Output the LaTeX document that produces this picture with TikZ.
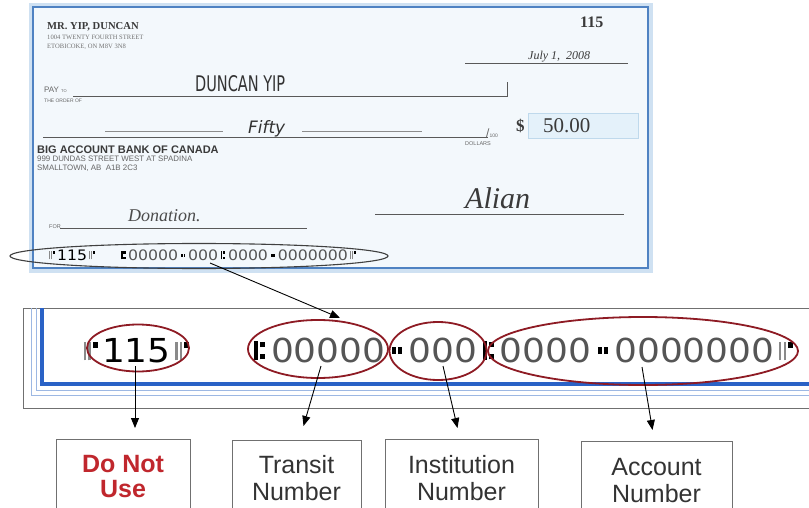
\documentclass[tikz,border=0pt]{standalone}
\usepackage{fontspec}
\usepackage{graphicx}
\setmainfont{Liberation Serif}
\setsansfont{Liberation Sans}
\newfontfamily\micrfont{DejaVu Sans}
\newfontfamily\handfont{DejaVu Sans Condensed}
\usetikzlibrary{shapes.geometric,arrows.meta,calc}
\definecolor{chqfill}{HTML}{F3F8FC}
\definecolor{chqband}{HTML}{CFE1F2}
\definecolor{chqline}{HTML}{4F82C2}
\definecolor{dred}{HTML}{8E1B24}
\definecolor{mblue}{HTML}{2A62C6}
\definecolor{lblue}{HTML}{9DB8E3}
\definecolor{boxgray}{HTML}{707070}
\definecolor{txtgray}{HTML}{333333}
\definecolor{redtxt}{HTML}{C0272D}
\definecolor{amtbox}{HTML}{E4F1FA}
\definecolor{amtline}{HTML}{BFD9EC}
\definecolor{micrgray}{HTML}{555555}
\definecolor{symgray}{HTML}{8A8A8A}
\definecolor{inkgray}{HTML}{3A3A3A}
\newcommand\fsz[1]{\fontsize{#1}{#1}\selectfont}
% E-13B MICR symbols (no installed font has them): drawn from rules
\newcommand\symonus{\makebox[0.636em]{\color{symgray}\rule[0.05em]{0.07em}{0.55em}\hspace{0.06em}\rule[0.05em]{0.07em}{0.55em}\hspace{0.05em}{\color{black}\rule[0.42em]{0.14em}{0.18em}}}}
\newcommand\symtransit{\makebox[0.636em]{\color{black}\rule[0.05em]{0.12em}{0.6em}\hspace{0.05em}\rlap{\rule[0.08em]{0.14em}{0.15em}}\rule[0.45em]{0.14em}{0.15em}}}
\newcommand\symdash{\makebox[0.636em]{\color{black}\rule[0.24em]{0.11em}{0.2em}\hspace{0.06em}\rule[0.24em]{0.11em}{0.2em}}}
\newcommand\micrleft{\symonus{\color{black}115}\symonus}
\newcommand\micrright{\symtransit 00000\symdash 000\symtransit 0000\symdash 0000000\symonus}
\begin{document}
\begin{tikzpicture}[x=1pt,y=-1pt,
  txt/.style={inner sep=0pt, anchor=base west},
  rul/.style={draw=black!65, line width=0.9pt},
  lrul/.style={draw=black!45, line width=0.7pt},
  redell/.style={ellipse, draw=dred, line width=1.8pt, inner sep=0pt},
  lbl/.style={draw=boxgray, line width=1pt, font=\fsz{25}\sffamily, text=txtgray, align=center, anchor=north, inner sep=0pt},
  arr/.style={draw=black, line width=0.9pt, -{Triangle[length=10pt,width=8pt]}},
]
\fill[white] (0,0) rectangle (809,508);
\useasboundingbox (0,0) rectangle (809,508);
\clip (0,0) rectangle (809,508);

% ---------- cheque ----------
\fill[chqband] (29,3) rectangle (653,273);
\draw[chqline, line width=1.6pt, fill=chqfill] (33,7) rectangle (648,268);

\node[txt, font=\fsz{10.6}\bfseries, text=inkgray] (owner) at (47,30) {MR. YIP, DUNCAN};
\node[txt, font=\fsz{6.6}, text=black!55] (addr1) at (47,40) {1004 TWENTY FOURTH STREET};
\node[txt, font=\fsz{6.6}, text=black!55] (addr2) at (47,49) {ETOBICOKE, ON M8V 3N8};
\node[txt, font=\fsz{16}\bfseries, text=inkgray] (chqno) at (580,28) {115};

\draw[rul] (465,63) -- (628,63);
\node[txt, font=\fsz{12}\itshape, text=inkgray] (date) at (528,60) {July 1,\ \ 2008};

\node[txt, font=\fsz{8}\sffamily, text=black!60] (pay) at (44,93) {PAY \fsz{4}TO};
\node[txt, font=\fsz{5}\sffamily, text=black!60] (order) at (44,103) {THE ORDER OF};
\draw[rul] (73,96) -- (507,96) -- (507,82);
\node[txt, text=txtgray] (payee) at (195,92) {\resizebox{90pt}{16pt}{\handfont DUNCAN YIP}};

\draw[rul] (43,137) -- (488,137);
\draw[lrul] (105,131) -- (223,131);
\draw[lrul] (302,131) -- (422,131);
\node[txt, text=txtgray] (words) at (248,134) {\resizebox{37pt}{13pt}{\handfont\itshape Fifty}};
\node[txt, font=\fsz{12}\sffamily, text=black!60] (slash) at (486,138) {/\fsz{5}100};
\node[txt, font=\fsz{5.5}\sffamily, text=black!60] (dollars) at (465,146) {DOLLARS};
\node[txt, font=\fsz{17}\bfseries, text=inkgray] (dsign) at (516,132) {\$};
\draw[amtline, fill=amtbox, line width=0.8pt] (528,113) rectangle (638,138);
\node[txt, font=\fsz{21}, text=inkgray] (amount) at (543,133) {50.00};

\node[txt, font=\fsz{11}\sffamily\bfseries, text=inkgray] (bank) at (37,154) {BIG ACCOUNT BANK OF CANADA};
\node[txt, font=\fsz{7.9}\sffamily, text=black!60] (bank1) at (37,162) {999 DUNDAS STREET WEST AT SPADINA};
\node[txt, font=\fsz{7.9}\sffamily, text=black!60] (bank2) at (37,170.5) {SMALLTOWN, AB\ \ A1B 2C3};

\draw[rul] (375,214) -- (624,214);
\node[txt, font=\fsz{30}\itshape, text=inkgray] (sig) at (465,208) {Alian};

\node[txt, font=\fsz{5.5}\sffamily, text=black!60] (for) at (49,228) {FOR};
\draw[rul] (60,228) -- (307,228);
\node[txt, font=\fsz{18}\itshape, text=black!70] (memo) at (128,222) {Donation.};

% small MICR line
\node[txt] (ms1) at (47,260) {\scalebox{1.09}[1]{\fsz{14.4}\micrfont\color{micrgray}\micrleft}};
\node[txt] (ms2) at (118,260) {\scalebox{1.09}[1]{\fsz{14.4}\micrfont\color{micrgray}\micrright}};
\node[ellipse, draw=black!75, line width=1.1pt, minimum width=378pt, minimum height=25pt, inner sep=0pt] (e0) at (199,256) {};

% ---------- enlarged MICR panel ----------
\draw[boxgray, line width=0.9pt] (23,308) rectangle (830,408);
\draw[lblue, line width=0.8pt] (31,308) -- (31,395) -- (830,395);
\draw[lblue, line width=0.8pt] (36,308) -- (36,390) -- (830,390);
\draw[mblue, line width=3.5pt] (42,308) -- (42,384) -- (830,384);

\node[txt] (mb1) at (79,362) {\scalebox{1.09}[1]{\fsz{33}\micrfont\color{micrgray}\micrleft}};
\node[txt] (mb2) at (248,362) {\scalebox{1.09}[1]{\fsz{33}\micrfont\color{micrgray}\micrright}};

\node[redell, minimum width=102pt, minimum height=47pt] (e1) at (138,348) {};
\node[redell, minimum width=140pt, minimum height=58pt] (e2) at (318,349) {};
\node[redell, minimum width=97pt, minimum height=58pt] (e3) at (438,351) {};
\node[redell, minimum width=310pt, minimum height=68pt] (e4) at (643,351) {};

% ---------- label boxes ----------
\node[lbl, minimum width=134pt, minimum height=74pt, font=\fsz{25}\sffamily\bfseries, text=redtxt] (dnu) at (123,439) {Do Not\\[0pt]Use};
\node[lbl, minimum width=129pt, minimum height=76pt] (transit) at (296.5,440) {Transit\\[2pt]Number};
\node[lbl, minimum width=153pt, minimum height=78pt] (inst) at (461.5,439) {Institution\\[2pt]Number};
\node[lbl, minimum width=151pt, minimum height=78pt] (acct) at (656.5,441) {Account\\[2pt]Number};

% ---------- connectors ----------
\coordinate (s0) at (210,263);
\coordinate (t0) at (340,318);
\draw[arr] (s0) -- (t0);

\coordinate (s1) at (135,366);
\coordinate (t1) at ($(dnu.north)+(12,-11)$);
\draw[arr] (s1) -- (t1);

\coordinate (s2) at (321,366);
\coordinate (t2) at ($(transit.north)+(7,-14)$);
\draw[arr] (s2) -- (t2);

\coordinate (s3) at (443,366);
\coordinate (t3) at ($(inst.north)+(-4,-11)$);
\draw[arr] (s3) -- (t3);

\coordinate (s4) at (642,367);
\coordinate (t4) at ($(acct.north)+(-4,-11)$);
\draw[arr] (s4) -- (t4);
\end{tikzpicture}
\end{document}
